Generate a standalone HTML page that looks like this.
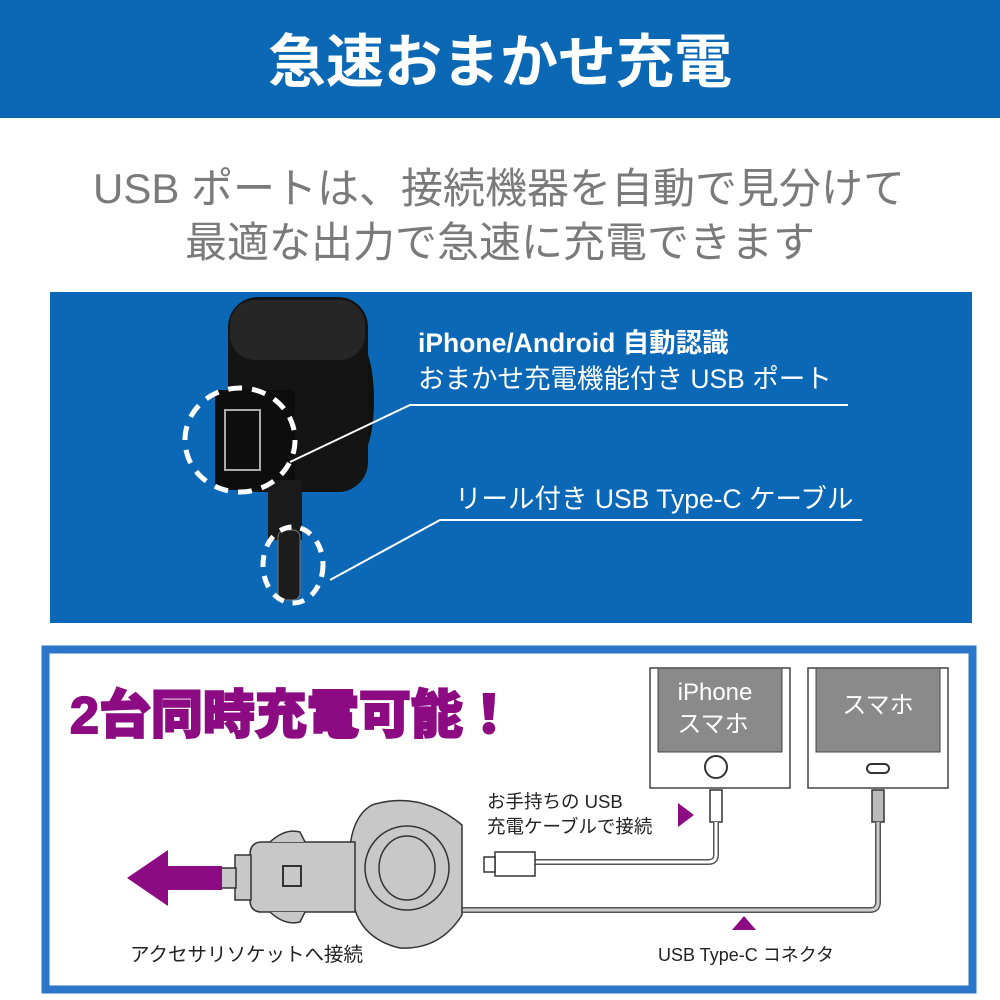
<!DOCTYPE html>
<html><head><meta charset="utf-8"><style>
html,body{margin:0;padding:0;background:#fff;width:1000px;height:1000px;overflow:hidden}
svg text{font-family:"Liberation Sans","Noto Sans CJK JP",sans-serif}
</style></head><body>
<svg width="1000" height="1000" viewBox="0 0 1000 1000" xmlns="http://www.w3.org/2000/svg">
<rect x="0" y="0" width="1000" height="118" fill="#0a68b4"/>
<text x="500" y="82" font-size="58" font-weight="bold" fill="#fff" text-anchor="middle">急速おまかせ充電</text>
<text x="499" y="203" font-size="42" fill="#7a7a7a" text-anchor="middle">USB ポートは、接続機器を自動で見分けて</text>
<text x="500" y="257" font-size="42" fill="#7a7a7a" text-anchor="middle">最適な出力で急速に充電できます</text>

<rect x="50" y="292" width="922" height="331" fill="#0b68b6"/>
<ellipse cx="360" cy="400" rx="14" ry="55" fill="#111"/>
<rect x="228" y="297" width="140" height="195" rx="30" fill="#141414"/>
<rect x="230" y="300" width="135" height="60" rx="25" fill="#262626"/>
<rect x="215" y="390" width="80" height="100" rx="4" fill="#0d0d0d"/>
<rect x="225" y="410" width="35" height="60" fill="none" stroke="#aaa" stroke-width="2"/>
<rect x="268" y="480" width="34" height="60" fill="#1a1a1a"/>
<rect x="278" y="530" width="22" height="70" rx="7" fill="#1c1c1c" stroke="#777" stroke-width="1"/>
<ellipse cx="240" cy="440" rx="55" ry="52" fill="none" stroke="#fff" stroke-width="5" stroke-dasharray="14 10"/>
<ellipse cx="293" cy="565" rx="30" ry="38" fill="none" stroke="#fff" stroke-width="5" stroke-dasharray="12 9"/>
<polyline points="290,462 410,405 848,405" fill="none" stroke="#fff" stroke-width="2"/>
<polyline points="330,580 440,520 862,520" fill="none" stroke="#fff" stroke-width="2"/>
<text x="418" y="352" font-size="26.5" font-weight="bold" fill="#fff">iPhone/Android 自動認識</text>
<text x="418" y="388" font-size="26.5" fill="#fff">おまかせ充電機能付き USB ポート</text>
<text x="455" y="508" font-size="26.5" fill="#fff">リール付き USB Type-C ケーブル</text>

<rect x="45.5" y="649.5" width="927" height="340" fill="#fff" stroke="#2a76c8" stroke-width="8"/>
<text x="70" y="733" font-size="52" font-weight="900" fill="#8c0a82" stroke="#8c0a82" stroke-width="2">2台同時充電可能！</text>
<rect x="650" y="668" width="140" height="120" fill="#fff" stroke="#444" stroke-width="1.5"/>
<rect x="658" y="668" width="124" height="84" fill="#8a8a8a" stroke="#444"/>
<text x="715" y="700" font-size="24" fill="#fff" text-anchor="middle">iPhone</text>
<text x="713" y="732" font-size="24" fill="#fff" text-anchor="middle">スマホ</text>
<ellipse cx="716" cy="767" rx="11" ry="11" fill="none" stroke="#333" stroke-width="2"/>
<rect x="808" y="668" width="140" height="120" fill="#fff" stroke="#444" stroke-width="1.5"/>
<rect x="816" y="668" width="124" height="84" fill="#8a8a8a" stroke="#444"/>
<text x="878" y="713" font-size="24" fill="#fff" text-anchor="middle">スマホ</text>
<rect x="867" y="764" width="22" height="9" rx="4.5" fill="none" stroke="#333" stroke-width="2"/>
<rect x="710" y="790" width="12" height="32" fill="#fff" stroke="#333" stroke-width="1.5"/>
<rect x="872" y="790" width="12" height="32" fill="#bbb" stroke="#333" stroke-width="1.5"/>
<path d="M716 822 V855 Q716 862 708 862 H535" fill="none" stroke="#555" stroke-width="6"/>
<path d="M716 822 V855 Q716 862 708 862 H535" fill="none" stroke="#fff" stroke-width="3"/>
<path d="M878 822 V902 Q878 910 870 910 H460" fill="none" stroke="#555" stroke-width="6"/>
<path d="M878 822 V902 Q878 910 870 910 H460" fill="none" stroke="#ccc" stroke-width="3"/>
<rect x="495" y="852" width="40" height="24" fill="#fff" stroke="#333" stroke-width="1.5"/>
<rect x="484" y="857" width="11" height="15" fill="#fff" stroke="#333" stroke-width="1.5"/>
<path d="M350 880 Q345 820 372 805 Q420 790 462 825 V915 Q440 950 400 948 Q365 940 355 910 Z" fill="#c8c8c8" stroke="#333" stroke-width="1.5"/>
<circle cx="407" cy="868" r="42" fill="#c8c8c8" stroke="#333" stroke-width="1.5"/>
<ellipse cx="407" cy="868" rx="28" ry="32" fill="#c8c8c8" stroke="#333" stroke-width="1.5"/>
<path d="M250 855 Q250 842 262 842 H355 V912 H262 Q250 912 250 900 Z" fill="#c8c8c8" stroke="#333" stroke-width="1.5"/>
<rect x="235" y="855" width="16" height="45" fill="#c8c8c8" stroke="#333" stroke-width="1.5"/>
<rect x="220" y="868" width="16" height="20" fill="#c8c8c8" stroke="#333" stroke-width="1.5"/>
<rect x="283" y="866" width="18" height="20" fill="none" stroke="#333" stroke-width="2"/>
<path d="M270 842 Q285 828 300 832 L305 842" fill="#c8c8c8" stroke="#333" stroke-width="1.5"/>
<path d="M270 912 Q285 926 300 922 L305 912" fill="#c8c8c8" stroke="#333" stroke-width="1.5"/>
<polygon points="127,878 168,850 168,866 222,866 222,890 168,890 168,906" fill="#8c0a82"/>
<polygon points="678,803 694,815 678,827" fill="#8c0a82"/>
<polygon points="744,916 756,930 732,930" fill="#8c0a82"/>
<text x="487" y="808" font-size="18.5" fill="#222">お手持ちの USB</text>
<text x="487" y="833" font-size="18.5" fill="#222">充電ケーブルで接続</text>
<text x="130" y="961" font-size="19.5" fill="#222">アクセサリソケットへ接続</text>
<text x="658" y="961" font-size="18" fill="#222">USB Type-C コネクタ</text>
</svg>
</body></html>
